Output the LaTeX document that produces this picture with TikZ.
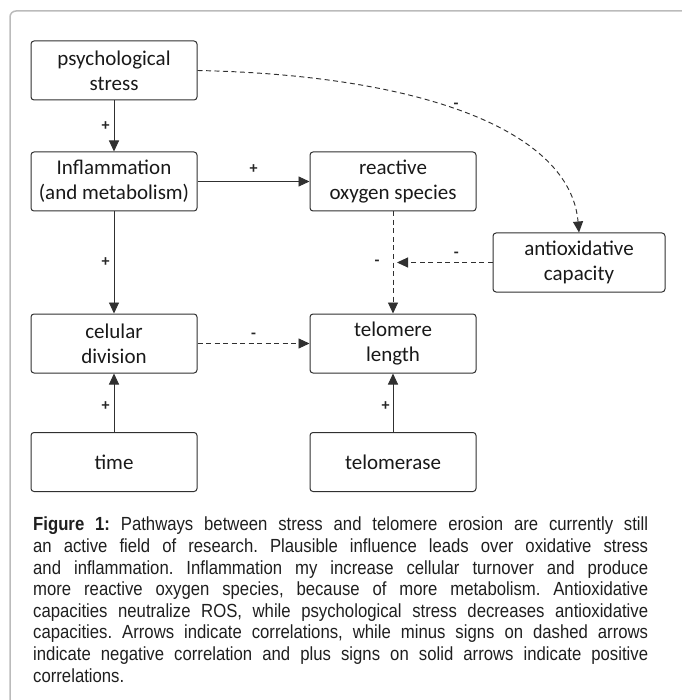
\documentclass[tikz,border=0pt]{standalone}
\usepackage{fontspec}
\setmainfont[FakeStretch=0.88]{Liberation Sans}
\newfontfamily\boxfont{Carlito}
\usetikzlibrary{arrows.meta,calc}
\definecolor{linec}{HTML}{303030}
\definecolor{framec}{HTML}{BBBBBB}
\tikzset{
  stepbox/.style={draw=linec, line width=1pt, rounded corners=3pt, minimum width=166pt, minimum height=59pt, inner sep=0pt, align=center, font=\boxfont\fontsize{21}{25}\selectfont, text=black!90},
  posarrow/.style={draw=linec, line width=0.95pt, -{Triangle[length=11pt,width=10pt]}},
  negarrow/.style={draw=linec, line width=0.95pt, dash pattern=on 5pt off 3.5pt, -{Triangle[length=11pt,width=10pt]}},
  sign/.style={font=\boxfont\bfseries\fontsize{16}{16}\selectfont, text=black!85, inner sep=1pt}
}
\begin{document}
\begin{tikzpicture}[x=1pt,y=-1pt]
\useasboundingbox (0,0) rectangle (681,700);
\draw[framec, line width=1.5pt, rounded corners=6pt] (10,702) -- (10,11) -- (683,11);

\node[stepbox] (ps)  at (114,70.5)  {psychological\\stress};
\node[stepbox] (inf) at (114,181.5) {Inflammation\\(and metabolism)};
\node[stepbox] (ros) at (393,181.5) {reactive\\oxygen species};
\node[stepbox, minimum width=172pt] (ao) at (579,262.5) {antioxidative\\capacity};
\node[stepbox] (cd)  at (114,343.5) {celular\\division};
\node[stepbox] (tl)  at (393,343.5) {telomere\\length};
\node[stepbox] (tm)  at (114,462)   {time};
\node[stepbox] (tase) at (393,462)  {telomerase};

\draw[posarrow] (ps) -- (inf) node[sign, midway, left=3pt] {+};
\draw[posarrow] (inf) -- (ros) node[sign, midway, above=7pt] {+};
\draw[posarrow] (inf) -- (cd) node[sign, midway, left=3pt] {+};
\draw[posarrow] (tm) -- (cd) node[sign, midway, left=3pt, yshift=-3pt] {+};
\draw[posarrow] (tase) -- (tl) node[sign, midway, left=2pt, yshift=-3pt] {+};
\draw[negarrow] (cd) -- (tl) node[sign, midway, above=4pt] {-};
\draw[negarrow] (ros) -- (tl) node[sign, midway, left=12pt] {-};
\coordinate (aoend) at ($(ros.south |- ao.west)+(4,0)$);
\draw[negarrow] (ao.west) -- (aoend) node[sign, pos=0.38, above=4pt] {-};
\draw[negarrow] (ps.east) .. controls (420,75) and (570,130) .. (ao.north) node[sign, pos=0.47, above=0pt] {-};

\node[anchor=north west, text width=615pt, align=justify, inner sep=0pt, font=\frenchspacing\fontsize{19}{21.6}\selectfont, text=black!88] (cap) at (33,517) {\textbf{Figure 1:} Pathways between stress and telomere erosion are currently still\linebreak an active field of research. Plausible influence leads over oxidative stress\linebreak and inflammation. Inflammation my increase cellular turnover and produce\linebreak more reactive oxygen species, because of more metabolism. Antioxidative\linebreak capacities neutralize ROS, while psychological stress decreases antioxidative\linebreak capacities. Arrows indicate correlations, while minus signs on dashed arrows\linebreak indicate negative correlation and plus signs on solid arrows indicate positive\linebreak correlations.};
\end{tikzpicture}
\end{document}
